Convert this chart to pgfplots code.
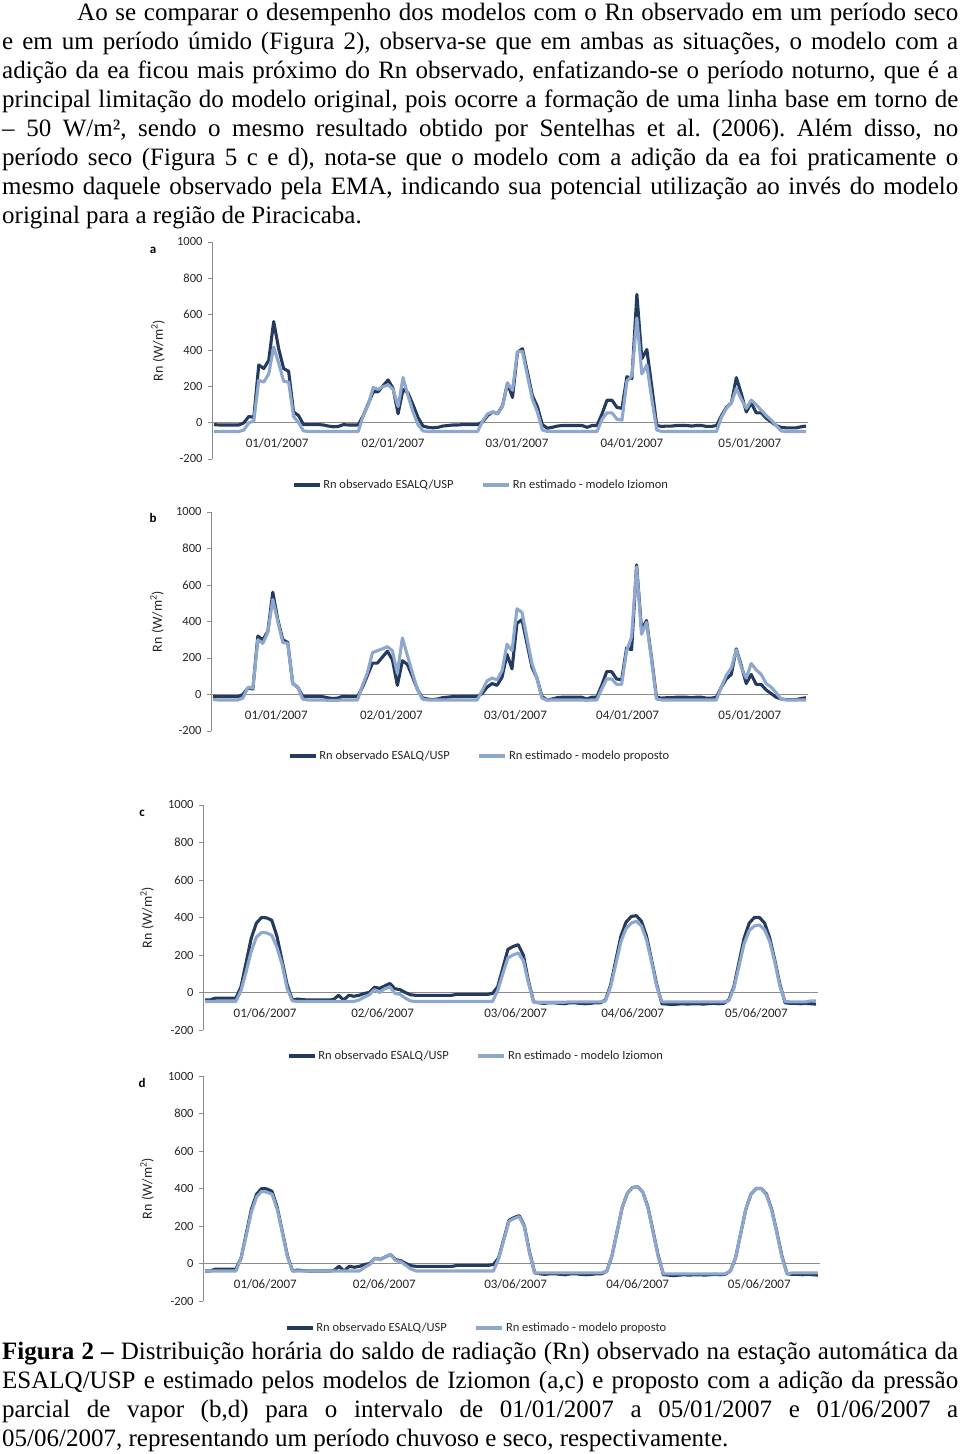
\documentclass[border=0pt]{standalone}
\usepackage{pgfplots}
\pgfplotsset{compat=1.18}
\usepackage{pgfplotstable}
\usepackage{fontspec}
\setmainfont{Liberation Serif}
\newfontfamily\chartfont{Carlito}
\definecolor{obs}{HTML}{243B5E}
\definecolor{est}{HTML}{8EA7CE}
\definecolor{axgray}{HTML}{8C8C8C}

% Periodo chuvoso (01/01/2007 - 05/01/2007), hourly
\pgfplotstableread{
h obs izi prop
0 -10 -48 -28
1 -12 -48 -30
2 -12 -48 -30
3 -12 -48 -30
4 -12 -48 -30
5 -12 -48 -30
6 0 -40 -20
7 35 0 40
8 30 10 35
9 320 235 300
10 300 225 280
11 345 270 340
12 560 420 520
13 410 330 400
14 300 230 285
15 285 225 280
16 60 35 60
17 40 0 40
18 -10 -45 -25
19 -10 -48 -30
20 -10 -48 -30
21 -10 -48 -30
22 -12 -48 -30
23 -18 -48 -32
24 -22 -48 -32
25 -20 -48 -32
26 -10 -48 -30
27 -12 -48 -30
28 -12 -48 -30
29 -12 -48 -30
30 40 40 50
31 105 100 120
32 172 195 230
33 172 185 240
34 205 200 250
35 237 210 262
36 190 185 240
37 50 90 115
38 185 250 310
39 165 150 215
40 100 60 120
41 30 -10 30
42 -18 -45 -25
43 -25 -48 -30
44 -28 -48 -30
45 -25 -48 -30
46 -18 -48 -30
47 -15 -48 -30
48 -12 -48 -30
49 -12 -48 -30
50 -10 -48 -30
51 -10 -48 -30
52 -10 -48 -30
53 -10 -48 -30
54 5 10 20
55 40 50 75
56 60 60 90
57 50 50 80
58 95 90 130
59 220 220 275
60 140 180 240
61 390 395 470
62 410 395 450
63 280 260 310
64 150 130 170
65 90 60 90
66 -10 -40 -20
67 -30 -48 -30
68 -25 -48 -30
69 -18 -48 -30
70 -15 -48 -30
71 -15 -48 -30
72 -15 -48 -30
73 -15 -48 -30
74 -15 -48 -30
75 -25 -48 -32
76 -15 -48 -30
77 -15 -48 -30
78 50 20 30
79 125 55 85
80 125 55 85
81 85 20 55
82 80 15 55
83 255 230 240
84 245 260 315
85 710 580 700
86 355 270 330
87 405 320 395
88 200 130 190
89 -15 -40 -25
90 -20 -48 -30
91 -18 -48 -30
92 -18 -48 -30
93 -15 -48 -30
94 -15 -48 -30
95 -15 -48 -30
96 -18 -48 -30
97 -15 -48 -30
98 -15 -48 -30
99 -20 -48 -30
100 -20 -48 -30
101 -15 -48 -30
102 40 30 40
103 85 80 105
104 110 110 145
105 250 190 245
106 160 130 150
107 60 80 90
108 110 125 170
109 55 100 135
110 55 70 110
111 25 40 60
112 5 15 40
113 -15 -15 10
114 -25 -45 -25
115 -28 -48 -30
116 -28 -48 -30
117 -28 -48 -30
118 -22 -48 -30
119 -18 -48 -30
}\rainy

% Periodo seco (01/06/2007 - 05/06/2007), hourly
\pgfplotstableread{
h obs izi prop
0 -40 -48 -40
1 -40 -48 -40
2 -30 -48 -40
3 -30 -48 -40
4 -30 -48 -40
5 -30 -48 -40
6 -30 -48 -40
7 30 10 30
8 160 110 150
9 290 220 275
10 370 295 355
11 400 320 385
12 398 318 380
13 385 305 370
14 300 240 290
15 170 150 165
16 40 20 35
17 -40 -45 -40
18 -35 -48 -40
19 -38 -48 -40
20 -40 -48 -40
21 -40 -48 -40
22 -40 -48 -40
23 -40 -48 -40
24 -40 -48 -40
25 -38 -48 -40
26 -15 -48 -40
27 -40 -48 -40
28 -15 -48 -40
29 -20 -48 -40
30 -15 -40 -40
31 -5 -25 -20
32 0 -12 -5
33 28 15 28
34 22 0 20
35 35 20 35
36 48 30 48
37 20 -5 15
38 15 -10 10
39 0 -30 -10
40 -12 -45 -30
41 -15 -48 -40
42 -15 -48 -40
43 -15 -48 -40
44 -15 -48 -40
45 -15 -48 -40
46 -15 -48 -40
47 -15 -48 -40
48 -15 -48 -40
49 -10 -48 -40
50 -10 -48 -40
51 -10 -48 -40
52 -10 -48 -40
53 -10 -48 -40
54 -10 -48 -40
55 -10 -48 -40
56 -5 -48 -40
57 30 10 25
58 130 100 125
59 230 185 225
60 245 200 240
61 255 210 250
62 200 170 195
63 60 50 55
64 -50 -52 -52
65 -55 -52 -50
66 -58 -52 -50
67 -55 -52 -50
68 -55 -52 -50
69 -58 -52 -50
70 -60 -52 -50
71 -55 -50 -50
72 -55 -50 -50
73 -58 -50 -50
74 -60 -50 -50
75 -58 -50 -50
76 -55 -50 -50
77 -55 -50 -50
78 -40 -45 -40
79 40 30 40
80 170 150 170
81 300 270 300
82 375 340 375
83 405 370 405
84 410 380 410
85 380 355 380
86 300 280 295
87 170 160 165
88 40 30 35
89 -60 -50 -55
90 -62 -50 -55
91 -65 -50 -55
92 -62 -50 -55
93 -60 -50 -55
94 -62 -50 -55
95 -60 -50 -55
96 -60 -50 -55
97 -62 -50 -55
98 -60 -50 -55
99 -58 -50 -55
100 -60 -50 -55
101 -58 -50 -55
102 -40 -45 -40
103 30 20 30
104 160 140 160
105 290 260 290
106 370 330 370
107 400 355 400
108 400 360 400
109 370 335 365
110 290 270 285
111 170 160 165
112 40 30 35
113 -55 -48 -55
114 -58 -50 -50
115 -58 -50 -50
116 -60 -50 -50
117 -58 -50 -50
118 -60 -45 -50
119 -62 -45 -50
}\dry

\newcommand{\cf}{\chartfont\fontsize{12.5bp}{14bp}\selectfont}
\newcommand{\txt}{\fontsize{25bp}{29bp}\selectfont\frenchspacing\spaceskip=0.25em plus 0.6em minus 0.12em\relax}
\pgfplotsset{
  rnpanel/.style={
    scale only axis,
    xmin=-0.4, xmax=119.4, ymin=-200, ymax=1000,
    axis y line*=left, axis x line*=middle,
    axis line style={-, draw=axgray, line width=0.8bp},
    hide obscured y ticks=false,
    ytick={-200,0,200,400,600,800,1000},
    yticklabels={-200,0,200,400,600,800,1000},
    tick align=outside,
    major tick length=4bp,
    ytick style={draw=axgray, line width=0.8bp},
    xtick style={draw=none},
    tick label style={font=\cf, text=black!85},
    xticklabel style={yshift=-8bp, font=\chartfont\fontsize{13bp}{14bp}\selectfont},
    yticklabel style={xshift=-2bp},
    ylabel={Rn (W/m\textsuperscript{2})},
    ylabel style={font=\chartfont\fontsize{14bp}{16bp}\selectfont, text=black!85, anchor=center},
    legend style={draw=none, fill=none, inner sep=0pt, legend columns=2, anchor=west,
      font=\cf, text=black!85,
      /tikz/every even column/.append style={column sep=26bp}},
    legend image code/.code={\draw[#1, line width=3.2bp] (0bp,0bp) -- (26bp,0bp);},
    every axis plot/.append style={line width=3.1bp, line join=round, no markers},
  }
}

\begin{document}
\begin{tikzpicture}[x=1bp,y=1bp]
\useasboundingbox (0,0) rectangle (960,1454);

% ---------- paragraph ----------
\begin{scope}[every node/.style={anchor=base west, inner sep=0pt, font=\txt}]
\node at (77,1433.5) {\makebox[881bp][s]{Ao se comparar o desempenho dos modelos com o Rn observado em um período seco}};
\node at (2,1404.5) {\makebox[956bp][s]{e em um período úmido (Figura 2), observa-se que em ambas as situações, o modelo com a}};
\node at (2,1375.5) {\makebox[956bp][s]{adição da ea ficou mais próximo do Rn observado, enfatizando-se o período noturno, que é a}};
\node at (2,1346.5) {\makebox[956bp][s]{principal limitação do modelo original, pois ocorre a formação de uma linha base em torno de}};
\node at (2,1317.5) {\makebox[956bp][s]{– 50 W/m², sendo o mesmo resultado obtido por Sentelhas et al. (2006). Além disso, no}};
\node at (2,1288.5) {\makebox[956bp][s]{período seco (Figura 5 c e d), nota-se que o modelo com a adição da ea foi praticamente o}};
\node at (2,1259.5) {\makebox[956bp][s]{mesmo daquele observado pela EMA, indicando sua potencial utilização ao invés do modelo}};
\node at (2,1230.5) {original para a região de Piracicaba.};
% ---------- caption ----------
\node at (2,94) {\makebox[956bp][s]{\textbf{Figura 2 –} Distribuição horária do saldo de radiação (Rn) observado na estação automática da}};
\node at (2,65) {\makebox[956bp][s]{ESALQ/USP e estimado pelos modelos de Iziomon (a,c) e proposto com a adição da pressão}};
\node at (2,36) {\makebox[956bp][s]{parcial de vapor (b,d) para o intervalo de 01/01/2007 a 05/01/2007 e 01/06/2007 a}};
\node at (2,7) {05/06/2007, representando um período chuvoso e seco, respectivamente.};
\end{scope}

% ---------- panel a ----------
\begin{axis}[rnpanel, at={(212bp,995bp)}, anchor=south west, width=596bp, height=217bp,
  xtick={12.7,36,60.9,84,107.7},
  xticklabels={01/01/2007,02/01/2007,03/01/2007,04/01/2007,05/01/2007},
  ylabel style={at={(axis description cs:-0.0906,0.5)}},
  legend style={at={(axis description cs:0.134,-0.12)}}]
\addplot[obs] table[x=h,y=obs]{\rainy};
\addlegendentry{Rn observado ESALQ/USP}
\addplot[est] table[x=h,y=izi]{\rainy};
\addlegendentry{Rn estimado - modelo Iziomon}
\end{axis}

% ---------- panel b ----------
\begin{axis}[rnpanel, at={(211bp,723bp)}, anchor=south west, width=597bp, height=219bp,
  xtick={12.7,35.8,60.7,83.2,107.7},
  xticklabels={01/01/2007,02/01/2007,03/01/2007,04/01/2007,05/01/2007},
  ylabel style={at={(axis description cs:-0.0905,0.5)}},
  legend style={at={(axis description cs:0.129,-0.114)}}]
\addplot[obs] table[x=h,y=obs]{\rainy};
\addlegendentry{Rn observado ESALQ/USP}
\addplot[est] table[x=h,y=prop]{\rainy};
\addlegendentry{Rn estimado - modelo proposto}
\end{axis}

% ---------- panel c ----------
\begin{axis}[rnpanel, at={(203bp,424bp)}, anchor=south west, width=615bp, height=225bp,
  xtick={11.7,34.6,60.5,83.3,107.4},
  xticklabels={01/06/2007,02/06/2007,03/06/2007,04/06/2007,05/06/2007},
  ylabel style={at={(axis description cs:-0.091,0.5)}},
  legend style={at={(axis description cs:0.1366,-0.1156)}}]
\addplot[obs] table[x=h,y=obs]{\dry};
\addlegendentry{Rn observado ESALQ/USP}
\addplot[est] table[x=h,y=izi]{\dry};
\addlegendentry{Rn estimado - modelo Iziomon}
\end{axis}

% ---------- panel d ----------
\begin{axis}[rnpanel, at={(203bp,153bp)}, anchor=south west, width=617bp, height=225bp,
  xtick={11.7,34.8,60.3,84,107.6},
  xticklabels={01/06/2007,02/06/2007,03/06/2007,04/06/2007,05/06/2007},
  ylabel style={at={(axis description cs:-0.0908,0.5)}},
  legend style={at={(axis description cs:0.1329,-0.12)}}]
\addplot[obs] table[x=h,y=obs]{\dry};
\addlegendentry{Rn observado ESALQ/USP}
\addplot[est] table[x=h,y=prop]{\dry};
\addlegendentry{Rn estimado - modelo proposto}
\end{axis}

% panel letters
\begin{scope}[every node/.style={anchor=center, inner sep=0pt, font=\chartfont\bfseries\fontsize{13bp}{14bp}\selectfont}]
\node at (153,1204) {a};
\node at (153,936) {b};
\node at (142,641) {c};
\node at (142,371) {d};
\end{scope}
\end{tikzpicture}
\end{document}
